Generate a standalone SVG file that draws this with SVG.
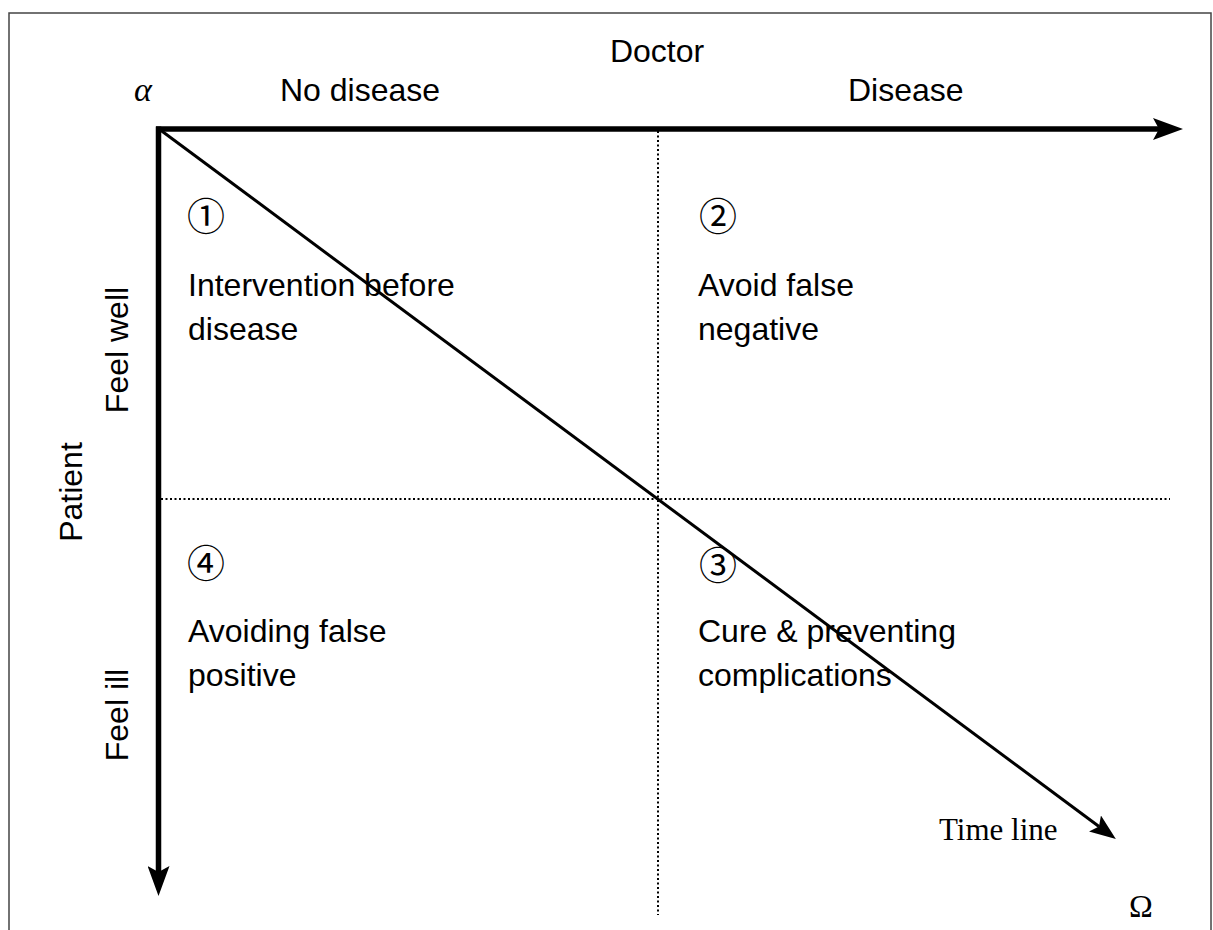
<svg xmlns="http://www.w3.org/2000/svg" width="1213" height="930" viewBox="0 0 1213 930">
<style>
.lbl{font-family:"Liberation Sans",Arial,sans-serif;font-size:32px;fill:#000}
.num{font-family:"Noto Sans CJK JP","DejaVu Sans",sans-serif;font-size:38px;fill:#000}
.ser{font-family:"Liberation Serif","Times New Roman",serif;fill:#000}
.axis{stroke:#000;stroke-width:5.5;fill:none}
.diag{stroke:#000;stroke-width:3;fill:none}
.dot{stroke:#000;stroke-width:2;stroke-dasharray:2 2.5;fill:none}
</style>
<defs>
<marker id="bigArrow" viewBox="0 -11 30 22" markerWidth="30" markerHeight="22" markerUnits="userSpaceOnUse" refX="6" refY="0" orient="auto">
<path d="M0,-11 L30,0 L0,11 L6,0 Z" fill="#000"/>
</marker>
<marker id="smallArrow" viewBox="0 -10 26 20" markerWidth="26" markerHeight="20" markerUnits="userSpaceOnUse" refX="5" refY="0" orient="auto">
<path d="M0,-10 L26,0 L0,10 L5,0 Z" fill="#000"/>
</marker>
</defs>
<rect x="0" y="0" width="1213" height="930" fill="#fff"/>
<rect x="9" y="13" width="1202" height="940" fill="none" stroke="#444" stroke-width="1.5"/>
<g id="connectors">
<line class="dot" x1="658" y1="131" x2="658" y2="915"/>
<line class="dot" x1="161" y1="499" x2="1170" y2="499"/>
<line class="axis" x1="156" y1="129" x2="1159" y2="129" marker-end="url(#bigArrow)"/>
<line class="axis" x1="158.5" y1="126.5" x2="158.5" y2="872" marker-end="url(#bigArrow)"/>
<line class="diag" x1="159" y1="129" x2="1099" y2="826.5" marker-end="url(#smallArrow)"/>
</g>
<g id="doctor"><text class="lbl" x="657" y="62" text-anchor="middle">Doctor</text></g>
<g id="alpha"><text class="ser" x="134" y="101" font-size="34" font-style="italic">α</text></g>
<g id="no-disease"><text class="lbl" x="280" y="101">No disease</text></g>
<g id="disease"><text class="lbl" x="848" y="101">Disease</text></g>
<g id="patient"><text class="lbl" transform="translate(82,492) rotate(-90)" text-anchor="middle">Patient</text></g>
<g id="feel-well"><text class="lbl" transform="translate(128,350) rotate(-90)" text-anchor="middle">Feel well</text></g>
<g id="feel-ill"><text class="lbl" transform="translate(128,715) rotate(-90)" text-anchor="middle">Feel ill</text></g>
<g id="q1">
<text class="num" x="187" y="230">①</text>
<text class="lbl" x="188" y="296">Intervention before</text>
<text class="lbl" x="188" y="340">disease</text>
</g>
<g id="q2">
<text class="num" x="699" y="230">②</text>
<text class="lbl" x="698" y="296">Avoid false</text>
<text class="lbl" x="698" y="340">negative</text>
</g>
<g id="q4">
<text class="num" x="187" y="577">④</text>
<text class="lbl" x="188" y="642">Avoiding false</text>
<text class="lbl" x="188" y="686">positive</text>
</g>
<g id="q3">
<text class="num" x="699" y="579">③</text>
<text class="lbl" x="698" y="642">Cure &amp; preventing</text>
<text class="lbl" x="698" y="686">complications</text>
</g>
<g id="time-line"><text class="ser" x="939" y="840" font-size="31">Time line</text></g>
<g id="omega"><text class="ser" x="1129" y="917" font-size="32">Ω</text></g>
</svg>
